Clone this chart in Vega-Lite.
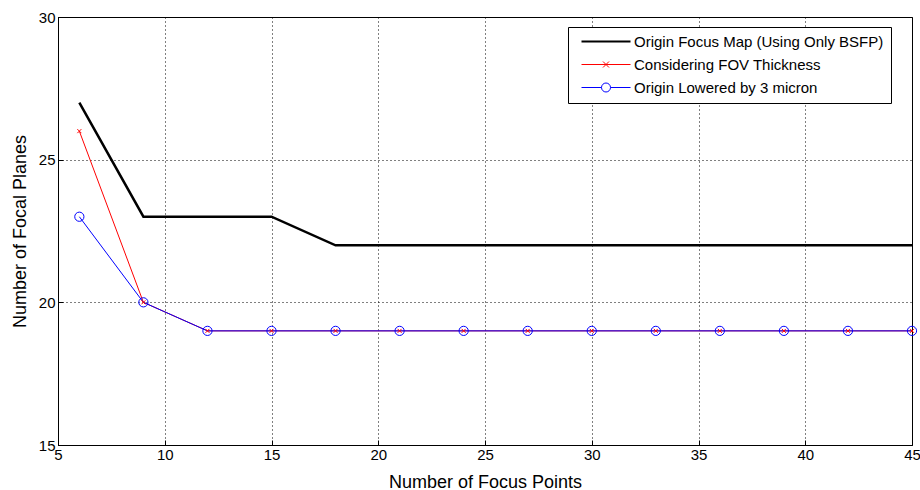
{
  "$schema": "https://vega.github.io/schema/vega-lite/v6.json",
  "width": 854,
  "height": 428,
  "autosize": {"type": "none"},
  "padding": {"left": 58, "top": 17, "right": 8, "bottom": 45},
  "background": "white",
  "config": {
    "font": "Liberation Sans",
    "view": {"stroke": "black", "strokeWidth": 1},
    "axis": {
      "labelFont": "Liberation Sans",
      "labelFontSize": 15,
      "labelColor": "#000",
      "titleFont": "Liberation Sans",
      "titleFontSize": 18,
      "titleFontWeight": "normal",
      "titleColor": "#000",
      "domainColor": "#000",
      "tickColor": "#000",
      "gridColor": "#000",
      "gridDash": [1, 3],
      "gridWidth": 1,
      "gridOpacity": 1
    }
  },
  "data": {
    "values": [
      {"series": "Origin Focus Map (Using Only BSFP)", "x": 6, "y": 27},
      {"series": "Origin Focus Map (Using Only BSFP)", "x": 9, "y": 23},
      {"series": "Origin Focus Map (Using Only BSFP)", "x": 12, "y": 23},
      {"series": "Origin Focus Map (Using Only BSFP)", "x": 15, "y": 23},
      {"series": "Origin Focus Map (Using Only BSFP)", "x": 18, "y": 22},
      {"series": "Origin Focus Map (Using Only BSFP)", "x": 21, "y": 22},
      {"series": "Origin Focus Map (Using Only BSFP)", "x": 24, "y": 22},
      {"series": "Origin Focus Map (Using Only BSFP)", "x": 27, "y": 22},
      {"series": "Origin Focus Map (Using Only BSFP)", "x": 30, "y": 22},
      {"series": "Origin Focus Map (Using Only BSFP)", "x": 33, "y": 22},
      {"series": "Origin Focus Map (Using Only BSFP)", "x": 36, "y": 22},
      {"series": "Origin Focus Map (Using Only BSFP)", "x": 39, "y": 22},
      {"series": "Origin Focus Map (Using Only BSFP)", "x": 42, "y": 22},
      {"series": "Origin Focus Map (Using Only BSFP)", "x": 45, "y": 22},
      {"series": "Considering FOV Thickness", "x": 6, "y": 26},
      {"series": "Considering FOV Thickness", "x": 9, "y": 20},
      {"series": "Considering FOV Thickness", "x": 12, "y": 19},
      {"series": "Considering FOV Thickness", "x": 15, "y": 19},
      {"series": "Considering FOV Thickness", "x": 18, "y": 19},
      {"series": "Considering FOV Thickness", "x": 21, "y": 19},
      {"series": "Considering FOV Thickness", "x": 24, "y": 19},
      {"series": "Considering FOV Thickness", "x": 27, "y": 19},
      {"series": "Considering FOV Thickness", "x": 30, "y": 19},
      {"series": "Considering FOV Thickness", "x": 33, "y": 19},
      {"series": "Considering FOV Thickness", "x": 36, "y": 19},
      {"series": "Considering FOV Thickness", "x": 39, "y": 19},
      {"series": "Considering FOV Thickness", "x": 42, "y": 19},
      {"series": "Considering FOV Thickness", "x": 45, "y": 19},
      {"series": "Origin Lowered by 3 micron", "x": 6, "y": 23},
      {"series": "Origin Lowered by 3 micron", "x": 9, "y": 20},
      {"series": "Origin Lowered by 3 micron", "x": 12, "y": 19},
      {"series": "Origin Lowered by 3 micron", "x": 15, "y": 19},
      {"series": "Origin Lowered by 3 micron", "x": 18, "y": 19},
      {"series": "Origin Lowered by 3 micron", "x": 21, "y": 19},
      {"series": "Origin Lowered by 3 micron", "x": 24, "y": 19},
      {"series": "Origin Lowered by 3 micron", "x": 27, "y": 19},
      {"series": "Origin Lowered by 3 micron", "x": 30, "y": 19},
      {"series": "Origin Lowered by 3 micron", "x": 33, "y": 19},
      {"series": "Origin Lowered by 3 micron", "x": 36, "y": 19},
      {"series": "Origin Lowered by 3 micron", "x": 39, "y": 19},
      {"series": "Origin Lowered by 3 micron", "x": 42, "y": 19},
      {"series": "Origin Lowered by 3 micron", "x": 45, "y": 19}
    ]
  },
  "encoding": {
    "x": {
      "field": "x", "type": "quantitative",
      "scale": {"domain": [5, 45], "nice": false, "zero": false},
      "axis": {"title": "Number of Focus Points", "values": [5, 10, 15, 20, 25, 30, 35, 40, 45], "grid": true, "tickSize": -5, "labelPadding": 7, "labelFlush": false, "titlePadding": 11}
    },
    "y": {
      "field": "y", "type": "quantitative",
      "scale": {"domain": [15, 30], "nice": false, "zero": false},
      "axis": {"title": "Number of Focal Planes", "values": [15, 20, 25, 30], "grid": true, "tickSize": -5, "labelPadding": 8, "titlePadding": 9}
    }
  },
  "layer": [
    {
      "mark": {"type": "line"},
      "encoding": {
        "color": {
          "field": "series", "type": "nominal",
          "scale": {
            "domain": ["Origin Focus Map (Using Only BSFP)", "Considering FOV Thickness", "Origin Lowered by 3 micron"],
            "range": ["#000000", "#ff0000", "#0000ff"]
          },
          "legend": {
            "title": null,
            "orient": "none",
            "legendX": 510,
            "legendY": 10,
            "strokeColor": "#000",
            "fillColor": "#fff",
            "padding": 7,
            "labelFont": "Liberation Sans",
            "labelFontSize": 15,
            "labelColor": "#000",
            "labelLimit": 500,
            "labelOffset": 44,
            "symbolSize": 100,
            "rowPadding": 7,
            "encode": {
              "symbols": {
                "update": {
                  "fill": {"value": "transparent"},
                  "shape": {"signal": "datum.value === 'Origin Focus Map (Using Only BSFP)' ? 'M-0.2,0H9.6' : datum.value === 'Considering FOV Thickness' ? 'M-0.2,0H9.6M4.1,-0.6L5.3,0.6M4.1,0.6L5.3,-0.6' : 'M-0.2,0H3.8M5.6,0H9.6M3.8,0A0.9,0.9 0 1,1 5.6,0A0.9,0.9 0 1,1 3.8,0'"},
                  "strokeWidth": {"signal": "datum.value === 'Origin Focus Map (Using Only BSFP)' ? 2 : 1"}
                }
              }
            }
          }
        },
        "strokeWidth": {
          "condition": {"test": "datum.series === 'Origin Focus Map (Using Only BSFP)'", "value": 2.5},
          "value": 1
        },
        "order": {"field": "x", "type": "quantitative"}
      }
    },
    {
      "transform": [{"filter": "datum.series === 'Considering FOV Thickness'"}],
      "mark": {"type": "point", "shape": "M-1,-1L1,1M-1,1L1,-1", "filled": false, "stroke": "#ff0000", "strokeWidth": 1, "size": 16, "opacity": 1}
    },
    {
      "transform": [{"filter": "datum.series === 'Origin Lowered by 3 micron'"}],
      "mark": {"type": "point", "shape": "circle", "filled": false, "stroke": "#0000ff", "strokeWidth": 1, "size": 85, "opacity": 1}
    }
  ]
}
